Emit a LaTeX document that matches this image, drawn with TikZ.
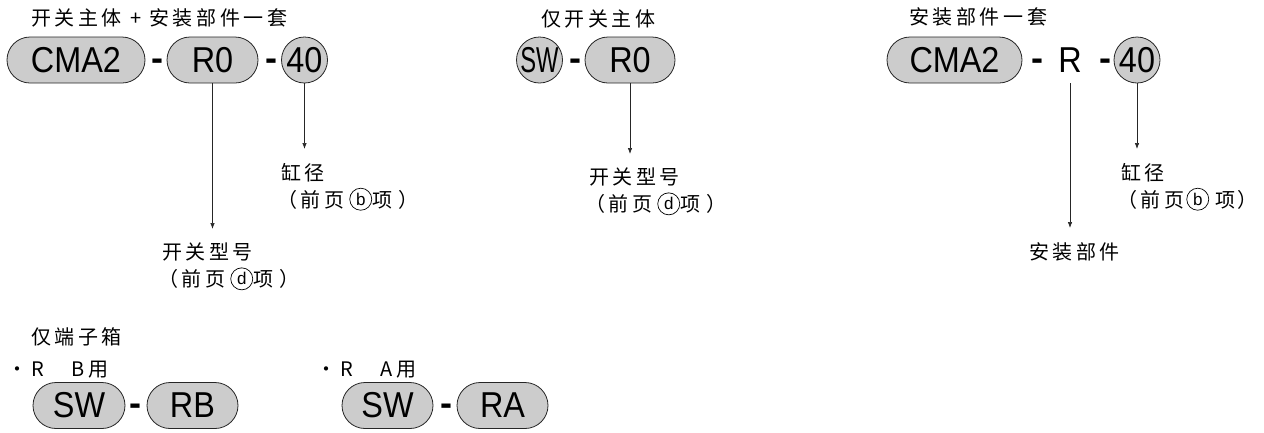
\documentclass[tikz,border=0pt]{standalone}
\usepackage{fontspec}
\setmainfont{Liberation Sans}
\newfontfamily\cjk{Noto Sans CJK SC}[LetterSpace=18]
\newfontfamily\pillfont{Liberation Sans}[FakeStretch=0.9]
\newfontfamily\swfont{Liberation Sans}[FakeStretch=0.66]
\usetikzlibrary{shapes.misc,arrows.meta}
\newcommand{\marked}[1]{\tikz[baseline={([yshift=-2pt]m.base)}]\node[anchor=center,align=center,draw,circle,inner sep=0pt,minimum size=22pt,line width=0.7pt,font=\normalfont\fontsize{17}{17}\selectfont](m){#1};}
\tikzset{
  pill/.style={rounded rectangle, draw=black!85, fill=black!20, line width=0.8pt,
    minimum height=46pt, inner sep=0pt, font=\pillfont\fontsize{36}{36}\selectfont},
  disc/.style={circle, draw=black!85, fill=black!20, line width=0.8pt,
    minimum size=46pt, inner sep=0pt, font=\pillfont\fontsize{36}{36}\selectfont},
  joint/.style={anchor=base, inner sep=0pt, font=\bfseries\fontsize{36}{36}\selectfont},
  head/.style={anchor=west, inner sep=0pt, font=\cjk\fontsize{20}{27}\selectfont},
  note/.style={anchor=north west, align=left, inner sep=0pt, font=\cjk\fontsize{20}{27}\selectfont},
  lead/.style={->, draw=black!85, line width=0.7pt, shorten >=14pt},
  >={Latex[length=6pt,width=4.5pt]}
}
\begin{document}
\begin{tikzpicture}[x=1pt,y=-1pt]
  \useasboundingbox (0,0) rectangle (1264,432);
  % switch body + mounting kit
  \node[head] (headA) at (31,18) {开关主体 + 安装部件一套};
  \node[pill, minimum width=138pt] (cmaA) at (76,60) {CMA2};
  \node[joint] (dashA1) at (157.5,70) {-};
  \node[pill, minimum width=91pt] (roA) at (212.5,60) {R0};
  \node[joint] (dashA2) at (271,70) {-};
  \node[disc] (boreA) at (304.5,60) {40};
  \node[note] (typeA) at (162,243) {开关型号\\\kern-4pt（前页\kern5pt\marked{d}项\kern6pt）};
  \node[note] (sizeA) at (281,163) {缸径\\\kern-4pt（前页\kern5pt\marked{b}项\kern6pt）};
  \draw[lead] (roA.south) to (roA.south |- typeA.north);
  \draw[lead] (boreA.south) to (boreA.south |- sizeA.north);

  % switch body only
  \node[head] (headB) at (541,19) {仅开关主体};
  \node[disc, font=\swfont\fontsize{36}{36}\selectfont] (swB) at (539.5,60) {SW};
  \node[joint] (dashB) at (575,70) {-};
  \node[pill, minimum width=90pt] (roB) at (630,60) {R0};
  \node[note] (typeB) at (589,168) {开关型号\\\kern-4pt（前页\kern5pt\marked{d}项\kern6pt）};
  \draw[lead] (roB.south) to (roB.south |- typeB.north);

  % mounting kit
  \node[head] (headC) at (909,17) {安装部件一套};
  \node[pill, minimum width=135pt] (cmaC) at (954.5,60) {CMA2};
  \node[joint] (dashC1) at (1037,70) {-};
  \node[inner sep=0pt, minimum height=46pt, font=\pillfont\fontsize{36}{36}\selectfont] (rC) at (1070,60) {R};
  \node[joint] (dashC2) at (1105,70) {-};
  \node[disc] (boreC) at (1137,60) {40};
  \node[note] (partC) at (1029,242) {安装部件};
  \node[note] (sizeC) at (1121,163) {缸径\\\kern-4pt（前页\kern2pt\marked{b}\kern6pt 项\kern2pt）};
  \draw[lead] (rC.south) to (rC.south |- partC.north);
  \draw[lead] (boreC.south) to (boreC.south |- sizeC.north);

  % terminal box only
  \node[head] (headD) at (31,337) {仅端子箱};
  \node[head] (kindB) at (7.5,370) {・R　\kern4pt B用};
  \node[pill, minimum width=92pt] (swD1) at (79,405.5) {SW};
  \node[joint] (dashD1) at (135,415.5) {-};
  \node[pill, minimum width=91pt] (rbD) at (192.5,405.5) {RB};
  \node[head] (kindA) at (316.5,370) {・R　\kern4pt A用};
  \node[pill, minimum width=91pt] (swD2) at (387.5,405.5) {SW};
  \node[joint] (dashD2) at (446,415.5) {-};
  \node[pill, minimum width=91pt] (raD) at (502.5,405.5) {RA};
\end{tikzpicture}
\end{document}
